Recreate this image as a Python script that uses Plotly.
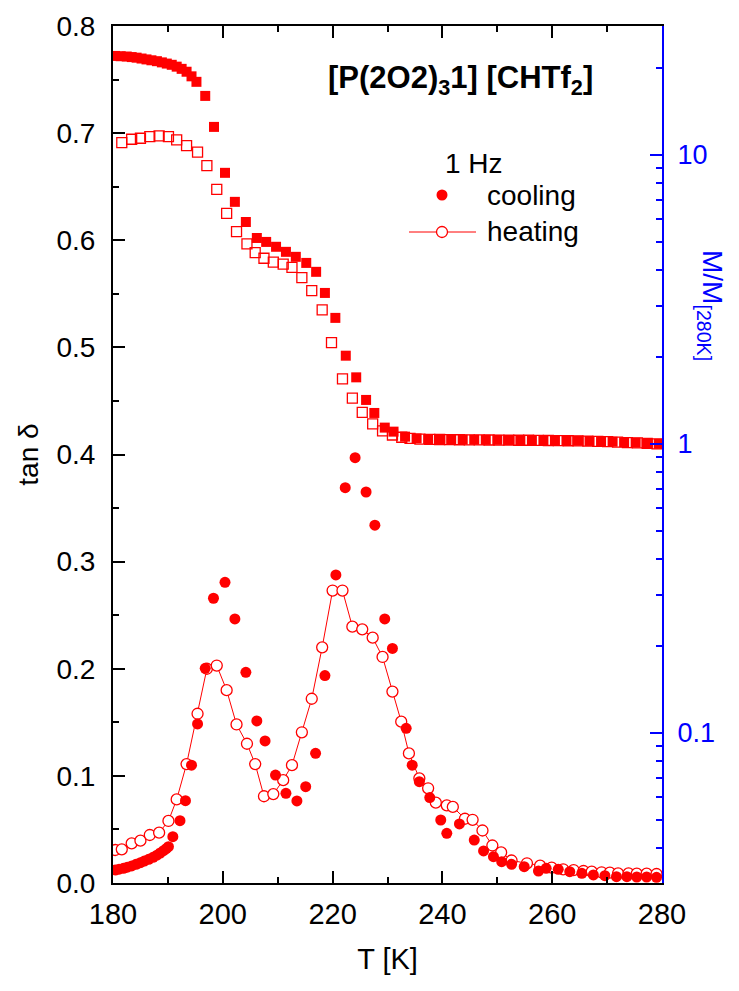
import plotly.graph_objects as go

# ---- tan(delta) at 1 Hz, cooling run ----
T_cool_tan = [180.4, 181.1, 181.9, 182.6, 183.4, 184.2, 185.0, 185.7, 186.5, 187.3,
              188.0, 188.6, 189.2, 189.7, 190.1, 190.9, 192.2, 193.2, 194.3, 195.4,
              196.8, 198.3, 200.4, 202.2, 204.2, 206.2, 207.7, 209.6, 211.5, 213.5,
              215.1, 216.9, 218.6, 220.6, 222.3, 224.1, 226.1, 227.7, 229.5, 230.9,
              233.4, 234.5, 235.8, 237.7, 239.7, 240.8, 243.1, 245.8, 247.5, 249.3,
              250.8, 252.6, 254.9, 257.5, 258.9, 261.1, 263.2, 265.4, 267.5, 269.6,
              271.7, 273.6, 275.4, 277.2, 279.0]
tan_cool = [0.0121, 0.0129, 0.0137, 0.0148, 0.0159, 0.0174, 0.0190, 0.0205, 0.0221, 0.0240,
            0.0260, 0.0280, 0.0302, 0.0320, 0.0339, 0.0432, 0.0582, 0.0768, 0.110, 0.1485,
            0.2004, 0.2658, 0.2807, 0.2465, 0.1967, 0.1513, 0.1326, 0.1008, 0.0837, 0.0766,
            0.0899, 0.1211, 0.1936, 0.2876, 0.369, 0.397, 0.365, 0.334, 0.2465, 0.219,
            0.1444, 0.110, 0.0946, 0.0797, 0.0588, 0.0464, 0.0551, 0.0401, 0.0299, 0.0246,
            0.0199, 0.0174, 0.0152, 0.0112, 0.0137, 0.0128, 0.0106, 0.0090, 0.0075, 0.0068,
            0.0059, 0.0059, 0.0056, 0.0056, 0.0053]

# ---- tan(delta) at 1 Hz, heating run ----
T_heat_tan = [180.4, 181.6, 183.4, 185.0, 186.7, 188.4, 190.1, 191.6, 193.4, 195.4,
              197.1, 198.9, 200.7, 202.5, 204.4, 205.9, 207.5, 209.2, 211.0, 212.6,
              214.4, 216.2, 218.1, 220.0, 221.8, 223.6, 225.4, 227.3, 229.1, 230.9,
              232.5, 233.9, 235.8, 237.4, 238.8, 240.8, 241.9, 244.1, 245.5, 247.3,
              249.1, 250.7, 252.6, 255.4, 257.8, 259.9, 262.0, 263.9, 265.7, 267.2,
              269.0, 270.5, 272.0, 273.9, 275.4, 277.2, 279.0]
tan_heat = [0.0308, 0.0314, 0.037, 0.0395, 0.0448, 0.047, 0.0579, 0.078, 0.111, 0.158,
            0.200, 0.203, 0.180, 0.148, 0.130, 0.111, 0.081, 0.083, 0.096, 0.110,
            0.1407, 0.172, 0.220, 0.273, 0.273, 0.2393, 0.2368, 0.229, 0.211, 0.1787,
            0.1506, 0.121, 0.0977, 0.0884, 0.075, 0.0725, 0.071, 0.060, 0.059, 0.049,
            0.035, 0.0285, 0.021, 0.0184, 0.0162, 0.0143, 0.0128, 0.0121, 0.0112, 0.0106,
            0.0100, 0.0097, 0.0090, 0.0090, 0.0087, 0.0087, 0.0084]

# ---- modulus normalised to 280 K, cooling run ----
T_cool_M = [180.4, 181.4, 182.5, 183.4, 184.3, 185.2, 186.1, 187.0, 188.0, 188.9,
            189.8, 190.7, 191.6, 192.5, 193.4, 194.3, 195.2, 196.8, 198.4, 200.4,
            202.2, 204.2, 206.2, 207.9, 209.7, 211.5, 213.3, 215.2, 217.0, 218.6,
            220.5, 222.4, 224.3, 226.1, 227.6, 229.5, 231.1, 233.2, 235.3, 237.4,
            239.5, 241.6, 243.7, 245.8, 247.9, 250.0, 252.1, 254.2, 256.3, 258.4,
            260.5, 262.6, 264.7, 266.8, 268.9, 271.0, 273.1, 275.2, 277.3, 279.4]
M_cool = [22.0, 21.95, 21.9, 21.8, 21.7, 21.55, 21.4, 21.25, 21.1, 20.9,
          20.7, 20.5, 20.2, 19.85, 19.4, 18.7, 17.9, 16.0, 12.5, 8.67,
          6.88, 5.86, 5.16, 5.00, 4.81, 4.62, 4.44, 4.23, 3.94, 3.33,
          2.73, 2.02, 1.70, 1.42, 1.28, 1.139, 1.103, 1.06, 1.045, 1.040,
          1.038, 1.036, 1.035, 1.034, 1.033, 1.033, 1.032, 1.031, 1.030, 1.030,
          1.029, 1.028, 1.026, 1.024, 1.021, 1.018, 1.014, 1.010, 1.006, 1.001]

# ---- modulus normalised to 280 K, heating run ----
T_heat_M = [181.6, 183.4, 185.0, 186.7, 188.4, 190.1, 191.6, 193.4, 195.4, 197.1,
            198.9, 200.7, 202.5, 204.4, 205.9, 207.5, 209.2, 211.0, 212.6, 214.4,
            216.2, 218.1, 219.8, 221.8, 223.6, 225.4, 227.3, 229.1, 230.9, 232.6,
            234.1, 235.9, 237.7, 239.5, 241.3, 243.1, 244.9, 246.7, 248.5, 250.3,
            252.1, 253.9, 255.7, 257.5, 259.3, 261.1, 262.9, 264.7, 266.5, 268.3,
            270.1, 271.9, 273.7, 275.5, 277.3, 279.1]
M_heat = [11.03, 11.33, 11.42, 11.57, 11.63, 11.57, 11.27, 10.76, 10.22, 9.18,
          7.60, 6.28, 5.43, 4.92, 4.59, 4.39, 4.26, 4.19, 4.08, 3.76,
          3.39, 2.91, 2.24, 1.68, 1.44, 1.287, 1.173, 1.11, 1.074, 1.055,
          1.045, 1.040, 1.037, 1.036, 1.035, 1.034, 1.033, 1.033, 1.032, 1.031,
          1.031, 1.030, 1.030, 1.029, 1.028, 1.027, 1.026, 1.025, 1.023, 1.021,
          1.018, 1.015, 1.011, 1.008, 1.004, 1.001]

x_ticks = [180, 200, 220, 240, 260, 280]
y_ticks = [0.0, 0.1, 0.2, 0.3, 0.4, 0.5, 0.6, 0.7, 0.8]
m_ticks = [0.1, 1, 10]
m_minor = [0.04, 0.05, 0.06, 0.07, 0.08, 0.09,
           0.2, 0.3, 0.4, 0.5, 0.6, 0.7, 0.8, 0.9,
           2, 3, 4, 5, 6, 7, 8, 9, 20]

RED = "#ff0000"
BLUE = "#0000ff"
FONT = "Liberation Sans, Arial, sans-serif"

fig = go.Figure()

fig.add_trace(go.Scatter(
    x=T_heat_M, y=M_heat, yaxis="y2", mode="markers",
    marker=dict(symbol="square-open", size=10, color=RED, line=dict(width=1.3)),
    showlegend=False))
fig.add_trace(go.Scatter(
    x=T_cool_M, y=M_cool, yaxis="y2", mode="markers",
    marker=dict(symbol="square", size=10, color=RED),
    showlegend=False))
fig.add_trace(go.Scatter(
    x=T_heat_tan, y=tan_heat, mode="lines+markers",
    line=dict(color=RED, width=1),
    marker=dict(symbol="circle", size=11, color="white", line=dict(color=RED, width=1.3)),
    showlegend=False))
fig.add_trace(go.Scatter(
    x=T_cool_tan, y=tan_cool, mode="markers",
    marker=dict(symbol="circle", size=11, color=RED),
    showlegend=False))

# plot-area edges in pixels
PL, PR, PT, PB = 113, 662, 26, 883
W, H = 739, 991


def px(x):
    return (x - PL) / (PR - PL)


def py(y):
    return (PB - y) / (PB - PT)


def label(text, x, y, size, color="black", xanchor="left", angle=0):
    return dict(text=text, x=px(x), y=py(y), xref="paper", yref="paper",
                xanchor=xanchor, yanchor="middle", textangle=angle, showarrow=False,
                font=dict(size=size, color=color, family=FONT))


annotations = [
    label("<b>[P(2O2)<sub>3</sub>1] [CHTf<sub>2</sub>]</b>", 460, 80, 31, xanchor="center"),
    label("1 Hz", 443, 164, 28),
    label("cooling", 485, 195, 28),
    label("heating", 485, 232, 28),
    label("M/M<sub>[280K]</sub>", 710, 305, 28, color=BLUE, xanchor="center", angle=90),
]

# hand-drawn legend glyphs
shapes = [
    dict(type="line", xref="paper", yref="paper", x0=px(409), x1=px(476), y0=py(232), y1=py(232),
         line=dict(color=RED, width=1)),
    dict(type="circle", xref="paper", yref="paper", xsizemode="pixel", ysizemode="pixel",
         xanchor=px(442), yanchor=py(232), x0=-5.5, x1=5.5, y0=-5.5, y1=5.5,
         fillcolor="white", line=dict(color=RED, width=1.3)),
    dict(type="circle", xref="paper", yref="paper", xsizemode="pixel", ysizemode="pixel",
         xanchor=px(442), yanchor=py(195), x0=-5.5, x1=5.5, y0=-5.5, y1=5.5,
         fillcolor=RED, line=dict(color=RED, width=0)),
]

fig.update_layout(
    width=W, height=H,
    margin=dict(l=PL, r=W - PR, t=PT, b=H - PB),
    paper_bgcolor="white", plot_bgcolor="white",
    font=dict(family=FONT, size=28, color="black"),
    showlegend=False,
    annotations=annotations,
    shapes=shapes,
    xaxis=dict(
        range=[180, 280], tickvals=x_ticks, ticks="inside", ticklen=12, tickwidth=2,
        tickcolor="black", showline=True, linecolor="black", linewidth=2, mirror="ticks",
        showgrid=False, zeroline=False, ticklabelstandoff=4,
        tickfont=dict(size=29),
        minor=dict(dtick=10, tick0=180, ticks="inside", ticklen=6, tickwidth=2, tickcolor="black"),
        title=dict(text="T [K]", font=dict(size=29), standoff=20),
    ),
    yaxis=dict(
        range=[0, 0.8], tickvals=y_ticks, tickformat=".1f", ticks="inside", ticklen=12,
        tickwidth=2, tickcolor="black", showline=True, linecolor="black", linewidth=2,
        showgrid=False, zeroline=False, ticklabelstandoff=10,
        tickfont=dict(size=28),
        minor=dict(dtick=0.05, tick0=0, ticks="inside", ticklen=6, tickwidth=2, tickcolor="black"),
        title=dict(text="tan δ", font=dict(size=28), standoff=10),
    ),
    yaxis2=dict(
        type="log", range=[-1.519, 1.446], overlaying="y", side="right",
        tickvals=m_ticks, ticktext=["0.1", "1", "10"], ticks="inside", ticklen=12,
        tickwidth=2, tickcolor=BLUE, showline=True, linecolor=BLUE, linewidth=2,
        showgrid=False, zeroline=False, ticklabelstandoff=8,
        tickfont=dict(color=BLUE, size=27),
        minor=dict(tickvals=m_minor, ticks="inside", ticklen=6, tickwidth=2, tickcolor=BLUE),
    ),
)

fig.write_html("out.html")
